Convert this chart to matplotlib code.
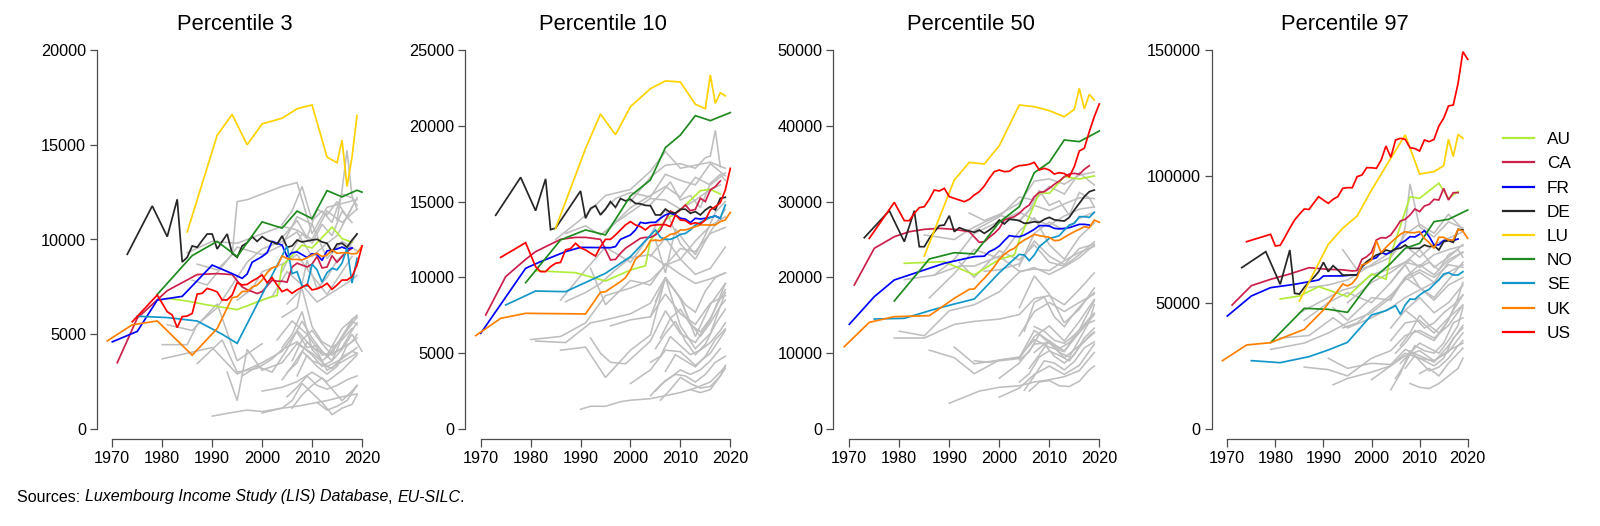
import matplotlib
matplotlib.use("Agg")
import matplotlib.pyplot as plt
from matplotlib.lines import Line2D

plt.rcParams['font.family'] = ['Liberation Sans', 'DejaVu Sans']

# ---- data ----
COUNTRIES = ["AU", "CA", "FR", "DE", "LU", "NO", "SE", "UK", "US"]
COLORS = {"AU": "#B2EC3A", "CA": "#CC1F4A", "FR": "#0000FF", "DE": "#262626",
          "LU": "#FFD200", "NO": "#1E8B1E", "SE": "#1397C9", "UK": "#FF8000",
          "US": "#FF0000"}
GRAY = "#BEBEBE"

YR_84_19 = list(range(1984, 2020))
YR_91_19 = list(range(1991, 2020))

# Percentile 3
P3 = {
    "AU": ([1981, 1985, 1989, 1995, 2001, 2003, 2004, 2008, 2010, 2014, 2016, 2018],
           [6900, 6750, 6550, 6300, 6900, 7050, 8600, 9700, 9550, 10650, 10050, 9850]),
    "CA": ([1971, 1975, 1981, 1987, 1991, 1994, 1996, 1997, 1998, 1999, 2000, 2001, 2002, 2003, 2004,
            2005, 2006, 2007, 2008, 2009, 2010, 2011, 2012, 2013, 2014, 2015, 2016, 2017, 2018],
           [3500, 5850, 7300, 8150, 8200, 8150, 7500, 7350, 7250, 7150, 7250, 7550, 7850, 7800, 7800,
            7750, 8550, 8750, 8650, 8550, 8700, 9100, 8500, 8550, 9150, 8800, 9100, 9350, 9550]),
    "FR": ([1970, 1975, 1979, 1984, 1990, 1994, 1996, 1997, 1998, 2000, 2001, 2002, 2004, 2005, 2006,
            2007, 2008, 2009, 2010, 2011, 2012, 2013, 2014, 2015, 2016, 2017, 2018],
           [4600, 5150, 6800, 7000, 8650, 8200, 7950, 8180, 8800, 9100, 9300, 9900, 9700, 9100, 9300,
            9350, 9200, 9050, 9250, 9200, 8900, 9400, 9450, 9500, 9600, 9500, 9550]),
    "DE": ([1973, 1978, 1981, 1983] + YR_84_19,
           [9220, 11770, 10150, 12120,
            8810, 9060, 9660, 9590, 9950, 10290, 10290, 9500, 9900, 10290, 9270, 9060, 9660, 9830,
            10150, 9900, 10150, 9970, 9870, 9760, 10190, 9590, 9660, 9970, 9870, 9920, 9970, 10010,
            9870, 9800, 9340, 9760, 9800, 9590, 9970, 10290]),
    "LU": ([1985, 1991, 1994, 1997, 2000, 2004, 2007, 2010, 2013, 2015, 2016, 2017, 2018, 2019],
           [10400, 15500, 16600, 15000, 16100, 16400, 16900, 17100, 14350, 14050, 15250, 12800, 14350, 16550]),
    "NO": ([1979, 1986, 1991, 1995, 2000, 2004, 2007, 2010, 2013, 2016, 2019, 2020],
           [7100, 9150, 9900, 9100, 10930, 10600, 11500, 11100, 12580, 12250, 12600, 12500]),
    "SE": ([1975, 1981, 1987, 1992, 1995, 2000, 2005, 2006, 2007, 2008, 2009, 2010, 2011, 2012, 2013,
            2014, 2015, 2016, 2017, 2018, 2019],
           [5950, 5880, 5700, 5000, 4520, 7100, 9650, 8200, 8300, 7550, 7550, 8700, 8400, 7750, 8250,
            8480, 8400, 8750, 9550, 7700, 9000]),
    "UK": ([1969, 1974, 1979, 1986, 1991, 1994, 1995, 1996, 1997, 1998, 1999, 2000, 2001, 2002, 2003,
            2004, 2005, 2006, 2007, 2008, 2009, 2010, 2011, 2012, 2013, 2014, 2015, 2016, 2017, 2018,
            2019, 2020],
           [4650, 5500, 5700, 3900, 5300, 6930, 6980, 7250, 7270, 7480, 7600, 7860, 8250, 8510, 8570,
            9130, 9000, 8950, 8950, 8920, 9040, 9180, 9270, 9100, 9180, 9450, 9270, 9300, 9300, 9240,
            9270, 9650]),
    "US": ([1974, 1979] + list(range(1981, 2021)),
           [5660, 7070,
            6190, 6015, 5350, 5930, 5960, 6100, 7120, 7160, 7420, 7340, 7230, 6810, 6810, 7070, 7720,
            7600, 7630, 7810, 7950, 8130, 7720, 7990, 7600, 7250, 7370, 7160, 7340, 7480, 7630, 7340,
            7400, 7510, 7690, 7370, 7600, 7860, 7860, 8040, 8650, 9660]),
}

P3_GRAY = [
    ([1987, 1991, 1994, 1995, 1997, 2000, 2004, 2007, 2010, 2013, 2016, 2019],
     [8700, 8400, 9200, 12000, 12100, 12400, 12800, 13000, 10300, 11700, 11900, 12100]),
    ([2004, 2006, 2008, 2010, 2012, 2014, 2016, 2018, 2019], [10800, 11500, 12800, 11000, 11500, 10900, 12400, 12200, 11800]),
    ([2003, 2005, 2007, 2009, 2011, 2013, 2015, 2017, 2019], [9800, 10400, 11000, 10100, 11600, 11300, 12000, 11200, 12200]),
    ([1985, 1990, 1995, 2000, 2004, 2007, 2010, 2013, 2016, 2019], [9300, 9900, 9800, 10300, 10700, 10500, 10000, 11500, 10900, 11600]),
    ([2004, 2006, 2008, 2010, 2012, 2014, 2016, 2018], [8300, 9400, 10300, 9800, 10800, 10200, 11500, 10900]),
    ([1980, 1985, 1987, 1991, 1994, 1997, 2000, 2004, 2007, 2010, 2013, 2015, 2018],
     [4450, 4450, 5500, 6400, 7600, 8800, 9500, 9900, 10400, 9100, 9800, 10200, 11700]),
    ([1986, 1989, 1993, 1995, 2000, 2004, 2007, 2010, 2013, 2016, 2019], [7850, 7600, 8900, 9600, 9200, 9700, 11200, 10800, 9000, 9900, 9400]),
    ([1995, 1998, 2000, 2004, 2007, 2010, 2013, 2016, 2018], [6800, 7400, 8300, 8700, 9200, 8100, 7100, 8300, 9100]),
    ([2004, 2007, 2009, 2011, 2013, 2015, 2017, 2019], [5900, 6400, 8900, 7400, 8000, 8900, 9400, 10300]),
    ([2015, 2016, 2017, 2018, 2019], [11000, 12600, 14700, 12300, 11600]),
    ([1980, 1985, 1990, 1995, 2000, 2004, 2007, 2010, 2013, 2016, 2019], [3700, 4000, 4300, 2900, 3500, 4100, 5200, 4300, 3900, 5300, 6000]),
    ([1987, 1992, 1995, 1999, 2002, 2004, 2007, 2010, 2012, 2014, 2016, 2018, 2019],
     [3450, 4700, 3000, 3200, 3700, 4200, 4600, 3900, 3300, 3600, 4800, 5800, 5900]),
    ([1993, 1995, 1997, 2000, 2004, 2007, 2010, 2013, 2016, 2019], [3000, 1500, 4200, 3100, 3500, 4500, 4000, 3300, 3700, 4300]),
    ([1996, 1999, 2002, 2005, 2008, 2010, 2012, 2014, 2016, 2018, 2020], [2800, 3300, 3000, 4200, 5700, 4800, 4100, 3600, 4200, 5000, 4100]),
    ([2004, 2006, 2008, 2010, 2012, 2014, 2016, 2018, 2019], [4300, 5000, 6200, 4200, 3600, 4000, 4900, 5700, 5500]),
    ([2005, 2007, 2009, 2011, 2013, 2015, 2017, 2019], [3000, 3500, 4600, 4100, 3100, 3400, 3700, 4000]),
    ([2004, 2006, 2008, 2010, 2012, 2014, 2016, 2018, 2019], [2600, 3300, 4100, 3600, 3400, 3200, 3800, 4100, 4000]),
    ([2000, 2004, 2007, 2010, 2013, 2016, 2019], [2000, 2200, 2500, 3000, 2500, 3100, 3900]),
    ([2005, 2007, 2009, 2011, 2013, 2015, 2017, 2019], [1700, 2200, 2800, 2300, 2100, 2300, 2600, 2800]),
    ([1990, 1994, 1997, 2000, 2004, 2007, 2010, 2013, 2016, 2019], [680, 870, 1000, 920, 1100, 1200, 1350, 1500, 1700, 1850]),
    ([2000, 2004, 2006, 2008, 2010, 2012, 2014, 2016, 2018, 2019], [850, 1100, 1500, 2400, 1900, 1400, 760, 1100, 1300, 1800]),
    ([2006, 2008, 2010, 2012, 2014, 2016, 2018, 2019], [1100, 1800, 2300, 2700, 2100, 1500, 2000, 2300]),
    ([2011, 2013, 2015, 2017, 2019], [1400, 1000, 1200, 1500, 2300]),
    ([1981, 1986, 1991, 1995, 2000], [5500, 5200, 6600, 3600, 4500]),
    ([2007, 2009, 2011, 2013, 2015, 2017, 2019], [5100, 4300, 4400, 3800, 4500, 5200, 5900]),
    ([1999, 2002, 2005, 2008, 2011, 2014, 2017, 2019], [6700, 7000, 8300, 7600, 6700, 7200, 7700, 8100]),
    ([2006, 2008, 2010, 2012, 2014, 2016, 2018, 2019], [3600, 4700, 5200, 4500, 3900, 4300, 5200, 5600]),
    ([2007, 2009, 2011, 2013, 2015, 2017, 2019], [2800, 3900, 3300, 2900, 3300, 4400, 4800]),
    ([2005, 2008, 2010, 2012, 2014, 2016, 2018], [6600, 7400, 5400, 4600, 4300, 4700, 5300]),
    ([2003, 2006, 2009, 2012, 2015, 2018, 2019], [4700, 5700, 5000, 3900, 4100, 4600, 5000]),
]

# Percentile 10
P10 = {
    "AU": ([1981, 1989, 1995, 2000, 2003, 2004, 2007, 2010, 2014, 2016, 2018],
           [10440, 10310, 9760, 10490, 10770, 12420, 13790, 14450, 15720, 15810, 15500]),
    "CA": ([1971, 1975, 1979, 1981, 1986, 1989, 1991, 1994, 1996, 1997, 1998, 1999, 2000, 2001, 2002,
            2003, 2004, 2005, 2006, 2007, 2008, 2009, 2010, 2011, 2012, 2013, 2014, 2015, 2016, 2017, 2018],
           [7520, 10050, 11190, 11700, 12510, 12640, 12640, 12510, 11150, 11190, 11590, 11920, 12140,
            12360, 12580, 12640, 12640, 12800, 13130, 13790, 14380, 14200, 14450, 14780, 14400, 14490,
            15220, 15000, 15770, 15990, 16360]),
    "FR": ([1970, 1979, 1982, 1987, 1990, 1996, 1997, 1998, 2000, 2001, 2002, 2003, 2004, 2005, 2006,
            2007, 2008, 2009, 2010, 2011, 2012, 2013, 2014, 2015, 2016, 2017, 2018],
           [6310, 10600, 11040, 11700, 11980, 11960, 12030, 12510, 12800, 13130, 13630, 13570, 13630,
            13630, 13900, 14120, 14230, 14120, 13900, 13850, 13610, 13900, 13850, 13900, 13960, 14050, 13900]),
    "DE": ([1973, 1978, 1981, 1983, 1984, 1985, 1990] + YR_91_19,
           [14100, 16600, 14400, 16500, 13150, 13250, 15700,
            13900, 14550, 14730, 14120, 14500, 15000, 14620, 15200, 15050, 15150, 14880, 14850, 14750,
            14730, 14120, 14120, 14510, 14270, 14250, 14490, 14500, 14230, 14340, 14120, 14450, 14670,
            14450, 15220, 15280]),
    "LU": ([1985, 1991, 1994, 1997, 2000, 2004, 2007, 2010, 2013, 2015, 2016, 2017, 2018, 2019],
           [13240, 18500, 20780, 19410, 21260, 22450, 22960, 22890, 21420, 21130, 23350, 21480, 22180, 21970]),
    "NO": ([1979, 1986, 1991, 1995, 2000, 2004, 2007, 2010, 2013, 2016, 2020],
           [9650, 12470, 13130, 12800, 15370, 16430, 18560, 19390, 20670, 20340, 20870]),
    "SE": ([1975, 1981, 1987, 1995, 2000, 2005, 2006, 2007, 2008, 2009, 2010, 2011, 2012, 2013, 2014,
            2015, 2016, 2017, 2018, 2019],
           [8180, 9100, 9060, 10270, 11370, 13130, 12640, 12510, 12510, 12640, 12840, 12900, 13130,
            13460, 13630, 13790, 13960, 14050, 13900, 14780]),
    "UK": ([1969, 1974, 1979, 1991, 1994, 1995, 1996, 1997, 1998, 1999, 2000, 2001, 2002, 2003, 2004,
            2005, 2006, 2007, 2008, 2009, 2010, 2011, 2012, 2013, 2014, 2015, 2016, 2017, 2018, 2019, 2020],
           [6160, 7300, 7630, 7590, 9020, 9060, 9280, 9500, 9720, 9980, 10490, 11190, 11480, 11850, 12420,
            12460, 12420, 12640, 12840, 12900, 13130, 13130, 13240, 13350, 13460, 13460, 13460, 13460,
            13680, 13790, 14290]),
    "US": ([1974, 1979] + list(range(1981, 2021)),
           [11320, 12290,
            10710, 10380, 10380, 10710, 10930, 10990, 11810, 11900, 12250, 11950, 11810, 11600, 11410,
            12030, 12510, 12510, 12800, 13130, 13460, 13680, 13460, 13350, 13130, 13410, 13460, 13480,
            13480, 13350, 14120, 13790, 13750, 13520, 13600, 13520, 13790, 14450, 14670, 14930, 15770, 17190]),
}

P10_GRAY = [
    ([1985, 1990, 1995, 2000, 2004, 2007, 2010, 2013, 2016, 2019], [12500, 13800, 15400, 15800, 17000, 18300, 17200, 17400, 17600, 17200]),
    ([2000, 2004, 2007, 2010, 2013, 2015, 2016, 2017, 2018], [15000, 16600, 17400, 17500, 17200, 17900, 18000, 19700, 17300]),
    ([1994, 1997, 2000, 2004, 2007, 2010, 2013, 2016, 2019], [14200, 15200, 15600, 15300, 16800, 16400, 16100, 17500, 16700]),
    ([1995, 2000, 2004, 2007, 2010, 2013, 2016, 2019], [13000, 14600, 15400, 16000, 15300, 16600, 16100, 16900]),
    ([1987, 1991, 1994, 1997, 2000, 2004, 2007, 2010, 2013, 2016, 2018],
     [12900, 13400, 12800, 13600, 14300, 15200, 15100, 14500, 15100, 15800, 16100]),
    ([2004, 2006, 2008, 2010, 2012, 2014, 2016, 2018, 2019], [14800, 15500, 16300, 15100, 15400, 14600, 16200, 16800, 16400]),
    ([1986, 1991, 1995, 2000, 2004, 2007, 2010, 2013, 2016, 2019], [8500, 10500, 12000, 11000, 12800, 14500, 12200, 11200, 13000, 14500]),
    ([2005, 2007, 2009, 2011, 2013, 2015, 2017, 2019], [12500, 10300, 13200, 12300, 11500, 12800, 14300, 15000]),
    ([1992, 1995, 2000, 2004, 2007, 2010, 2013, 2016, 2019], [10600, 8200, 9800, 9500, 10900, 10200, 9600, 9900, 10300]),
    ([1980, 1986, 1991, 1995, 2000, 2004, 2007, 2010, 2013, 2016, 2019],
     [5900, 6100, 7000, 8800, 9300, 9800, 10800, 11200, 10200, 10600, 12000]),
    ([1981, 1987, 1992, 1995, 2000, 2004, 2007, 2010, 2013, 2016, 2019],
     [5800, 5700, 7000, 7200, 7600, 8300, 10000, 8600, 6100, 8200, 9600]),
    ([1986, 1991, 1995, 2000, 2004, 2007, 2010, 2013, 2016, 2019], [5200, 5400, 3400, 5200, 6200, 10000, 6800, 5300, 6300, 9000]),
    ([1992, 1994, 1996, 1999, 2002, 2004, 2007, 2010, 2013, 2016, 2019],
     [6000, 5000, 4400, 4300, 5200, 5800, 7800, 6300, 5700, 7200, 9600]),
    ([1996, 2000, 2004, 2007, 2010, 2013, 2016, 2019], [6800, 7200, 7400, 8900, 7600, 6900, 8300, 8800]),
    ([2004, 2007, 2010, 2012, 2014, 2016, 2018, 2019], [7400, 10000, 8600, 7000, 6100, 7000, 8100, 8500]),
    ([2005, 2007, 2009, 2011, 2013, 2015, 2017, 2019], [5300, 6300, 7100, 5800, 4900, 5600, 6900, 7900]),
    ([2000, 2004, 2007, 2010, 2013, 2016, 2019], [3000, 3900, 5200, 5100, 4200, 5000, 6500]),
    ([2004, 2006, 2008, 2010, 2012, 2014, 2016, 2018, 2019], [4400, 4800, 6100, 5500, 4900, 5200, 5700, 6500, 7000]),
    ([2005, 2007, 2009, 2011, 2013, 2015, 2017, 2019], [2500, 3200, 3600, 3500, 3100, 3600, 4400, 4800]),
    ([2006, 2008, 2010, 2012, 2014, 2016, 2018, 2019], [1900, 2600, 3400, 3000, 2700, 2800, 3500, 4200]),
    ([1990, 1992, 1995, 1998, 2000, 2004, 2007, 2010, 2013, 2016, 2019],
     [1300, 1500, 1500, 1800, 1900, 2000, 2200, 2400, 2700, 3100, 4100]),
    ([2012, 2014, 2016, 2018, 2019], [2600, 2400, 2600, 3500, 4000]),
    ([2004, 2006, 2008, 2010, 2012, 2014, 2016, 2018], [2200, 2900, 3400, 3900, 3600, 3900, 4500, 5300]),
    ([1987, 1991, 1994, 1997, 2000, 2004, 2007, 2010, 2013, 2016, 2019],
     [8400, 9000, 9600, 10500, 11300, 11500, 10800, 11900, 11700, 12900, 13300]),
    ([2005, 2007, 2009, 2011, 2013, 2015, 2017, 2019], [8400, 9900, 9100, 8200, 7700, 9100, 10000, 10300]),
    ([2006, 2008, 2010, 2012, 2014, 2016, 2018, 2019], [6000, 7300, 7900, 6900, 6400, 7300, 8600, 9200]),
    ([2007, 2009, 2011, 2013, 2015, 2017, 2019], [3800, 4900, 4500, 4100, 4800, 5900, 6600]),
    ([2004, 2007, 2010, 2013, 2016, 2019], [11400, 12600, 11200, 12400, 13400, 14000]),
]

# Percentile 50
P50 = {
    "AU": ([1981, 1989, 1995, 2000, 2003, 2004, 2008, 2010, 2013, 2016, 2019],
           [21860, 22080, 20320, 22380, 22960, 24930, 31180, 31090, 33290, 32980, 33380]),
    "CA": ([1971, 1975, 1979, 1982, 1985, 1988, 1991, 1994, 1996, 1997, 1998, 1999, 2000, 2001, 2002,
            2003, 2004, 2005, 2006, 2007, 2008, 2009, 2010, 2011, 2012, 2013, 2014, 2015, 2016, 2017, 2018],
           [19000, 23840, 25370, 26030, 26340, 26470, 26340, 26030, 24630, 24700, 25290, 25810, 26470,
            27570, 27790, 28010, 28450, 29110, 29550, 30650, 31220, 31310, 31750, 32280, 32720, 33290,
            33640, 33730, 33600, 34260, 34740]),
    "FR": ([1970, 1975, 1979, 1984, 1989, 1995, 1997, 1998, 1999, 2000, 2001, 2002, 2003, 2004, 2005,
            2006, 2007, 2008, 2009, 2010, 2011, 2012, 2013, 2014, 2015, 2016, 2017, 2018],
           [13810, 17460, 19660, 20760, 21860, 22740, 22800, 23400, 23700, 24140, 24850, 25510, 25400,
            25370, 25590, 25950, 26340, 26830, 26830, 26780, 26470, 26400, 26470, 26560, 26780, 27000,
            27000, 26910]),
    "DE": ([1973, 1978, 1981, 1983] + YR_84_19,
           [25240, 28800, 24710, 28800,
            24050, 24050, 25150, 26000, 26830, 26910, 28140, 26030, 26560, 26300, 26120, 25950, 26250,
            25810, 26250, 26780, 27570, 27050, 27660, 27600, 27490, 27130, 27200, 27350, 27250, 27660,
            27920, 27600, 27500, 27440, 27920, 28890, 29770, 30650, 31310, 31530]),
    "LU": ([1985, 1991, 1994, 1997, 2000, 2004, 2007, 2010, 2013, 2015, 2016, 2017, 2018, 2019],
           [22820, 32850, 35180, 34960, 37380, 42740, 42520, 42000, 41200, 42170, 44940, 42220, 44150, 43400]),
    "NO": ([1979, 1986, 1991, 1995, 2000, 2004, 2007, 2010, 2013, 2016, 2020],
           [16890, 22430, 23260, 23090, 27270, 29330, 33820, 35180, 38130, 37910, 39310]),
    "SE": ([1975, 1981, 1987, 1991, 1995, 2000, 2004, 2005, 2006, 2007, 2008, 2010, 2011, 2012, 2013,
            2014, 2015, 2016, 2017, 2018, 2019],
           [14510, 14600, 15790, 16490, 17150, 20620, 23040, 22950, 22210, 22960, 24050, 25150, 25300,
            25510, 26250, 26910, 27130, 28010, 28010, 27920, 28580]),
    "UK": ([1969, 1974, 1979, 1986, 1991, 1994, 1995, 1996, 1997, 1998, 1999, 2000, 2001, 2002, 2003,
            2004, 2005, 2006, 2007, 2008, 2009, 2010, 2011, 2012, 2013, 2014, 2015, 2016, 2017, 2018,
            2019, 2020],
           [10860, 14070, 14820, 14950, 17240, 18430, 18470, 19220, 19880, 20620, 21420, 22380, 23040,
            23530, 23840, 24490, 24930, 25290, 25680, 25510, 25400, 25290, 24850, 24900, 25290, 25680,
            26030, 26340, 26690, 26560, 27570, 27270]),
    "US": ([1974, 1979] + list(range(1981, 2021)),
           [25150, 29900,
            27490, 27490, 28450, 29200, 29330, 30300, 31530, 31400, 31750, 30650, 30430, 30210, 29990,
            30300, 30870, 31310, 32060, 33070, 33950, 34170, 33950, 34000, 34480, 34740, 34800, 34920,
            35180, 34170, 34390, 34170, 33640, 33820, 33700, 33290, 34610, 36680, 37030, 39230, 41200, 42880]),
}

P50_GRAY = [
    ([1994, 1997, 2000, 2004, 2007, 2010, 2013, 2016, 2019], [28500, 27500, 28300, 29800, 32700, 33000, 32300, 33500, 33900]),
    ([1995, 2000, 2004, 2007, 2010, 2013, 2016, 2019], [26200, 28000, 30600, 30200, 32000, 31000, 33800, 32200]),
    ([1985, 1991, 1994, 1997, 2000, 2004, 2007, 2010, 2013, 2016, 2019],
     [25600, 25000, 26300, 27300, 28200, 27500, 29500, 28800, 29700, 30500, 30400]),
    ([2004, 2006, 2008, 2010, 2012, 2014, 2016, 2018, 2019], [27400, 28900, 31500, 29500, 30100, 28200, 31200, 30500, 29300]),
    ([1987, 1991, 1995, 2000, 2004, 2007, 2010, 2013, 2016, 2019], [20300, 22400, 25800, 27400, 28600, 27600, 26900, 28100, 29000, 29300]),
    ([1986, 1991, 1995, 2000, 2004, 2007, 2010, 2013, 2016, 2019], [17300, 20500, 23700, 22500, 26100, 27900, 24300, 22400, 25300, 27200]),
    ([1992, 1995, 2000, 2004, 2007, 2010, 2013, 2016, 2019], [22000, 20000, 23500, 22300, 24300, 22000, 21500, 23000, 24700]),
    ([1997, 2000, 2004, 2007, 2010, 2013, 2016, 2019], [20800, 21000, 21800, 24800, 22800, 21700, 23800, 24400]),
    ([1980, 1985, 1990, 1995, 2000, 2004, 2007, 2010, 2013, 2016, 2019],
     [12900, 12300, 15600, 16400, 18100, 20700, 21300, 20400, 21400, 22600, 24300]),
    ([1979, 1985, 1991, 1995, 2000, 2004, 2007, 2010, 2013, 2016, 2019],
     [12000, 12000, 13800, 14200, 14500, 15100, 17200, 17600, 16400, 18400, 20600]),
    ([1986, 1991, 1995, 2000, 2004, 2007, 2010, 2013, 2016, 2019], [10400, 9400, 7300, 9100, 9400, 13000, 11600, 10300, 12700, 15100]),
    ([1991, 1995, 2000, 2004, 2007, 2010, 2013, 2016, 2019], [10800, 8600, 9100, 9500, 11800, 10800, 10200, 13100, 16900]),
    ([1995, 1998, 2000, 2004, 2007, 2010, 2013, 2016, 2019], [9000, 8800, 9000, 9300, 12200, 13600, 11600, 14200, 17100]),
    ([2004, 2007, 2010, 2013, 2016, 2019], [16000, 20200, 17800, 14000, 15800, 18600]),
    ([2005, 2007, 2009, 2011, 2013, 2015, 2017, 2019], [12900, 16700, 17400, 14800, 13500, 15300, 16800, 18000]),
    ([2000, 2004, 2007, 2010, 2013, 2016, 2019], [6700, 8700, 11200, 11400, 9400, 11000, 12700]),
    ([2004, 2006, 2008, 2010, 2012, 2014, 2016, 2018, 2019], [9100, 10200, 12500, 11300, 10600, 11400, 13000, 14600, 15300]),
    ([2005, 2007, 2009, 2011, 2013, 2015, 2017, 2019], [5100, 7000, 9000, 8700, 7800, 8900, 10700, 11500]),
    ([1990, 1993, 1996, 2000, 2004, 2007, 2010, 2013, 2016, 2019], [3400, 4200, 5000, 5500, 5700, 6200, 6500, 6900, 7700, 10100]),
    ([2000, 2004, 2007, 2010, 2013, 2016, 2019], [4200, 5400, 7200, 8300, 7200, 8400, 11200]),
    ([2006, 2008, 2010, 2012, 2014, 2016, 2018, 2019], [5000, 6200, 6400, 5700, 5600, 6300, 7800, 8300]),
    ([2004, 2006, 2008, 2010, 2012, 2014, 2016, 2018, 2019], [6200, 7300, 9500, 10300, 9700, 9000, 10800, 12300, 12800]),
    ([2007, 2009, 2011, 2013, 2015, 2017, 2019], [13500, 12900, 11700, 11300, 12400, 13700, 14300]),
    ([1981, 1987, 1992, 1995, 2000, 2004, 2007, 2010, 2013, 2016, 2019],
     [19700, 20300, 21500, 21500, 22800, 20800, 21100, 20900, 22200, 23300, 24100]),
    ([2004, 2007, 2010, 2013, 2016, 2019], [12300, 15500, 16700, 15500, 16700, 17800]),
    ([2006, 2008, 2010, 2012, 2014, 2016, 2018, 2019], [8000, 9800, 11700, 10100, 9500, 11800, 14200, 16400]),
    ([2007, 2009, 2011, 2013, 2015, 2017, 2019], [10100, 11200, 9600, 8700, 9800, 12000, 13300]),
    ([2004, 2007, 2010, 2013, 2016, 2019], [21500, 25800, 27300, 26200, 27800, 28600]),
]

# Percentile 97
P97 = {
    "AU": ([1981, 1985, 1989, 1995, 2000, 2003, 2004, 2008, 2010, 2014, 2016, 2018],
           [51450, 52640, 56330, 52380, 61350, 59300, 68900, 91900, 91300, 97300, 91300, 94000]),
    "CA": ([1971, 1975, 1979, 1983, 1987, 1991, 1994, 1996, 1997, 1998, 1999, 2000, 2001, 2002, 2003,
            2004, 2005, 2006, 2007, 2008, 2009, 2010, 2011, 2012, 2013, 2014, 2015, 2016, 2017, 2018],
           [49080, 56730, 59240, 61350, 63850, 63190, 63000, 62530, 62700, 67150, 68210, 69920, 74800,
            75730, 75600, 76780, 79420, 82320, 82980, 84700, 87070, 86020, 88260, 88920, 90900, 90630,
            95250, 90630, 93540, 93540]),
    "FR": ([1970, 1975, 1979, 1984, 1989, 1990, 1994, 1996, 1997, 1998, 1999, 2000, 2001, 2002, 2003,
            2004, 2005, 2006, 2007, 2008, 2009, 2010, 2011, 2012, 2013, 2014, 2015, 2016, 2017, 2018],
           [44720, 52640, 55940, 57260, 58970, 60550, 60600, 60950, 60950, 64250, 65960, 67150, 67800,
            69920, 69130, 70000, 71500, 73480, 74540, 76120, 76000, 77050, 78500, 76120, 72820, 72900,
            74540, 74800, 74600, 75200]),
    "DE": ([1973, 1978, 1981, 1983] + YR_84_19,
           [63850, 70190, 57260, 70840,
            53690, 53430, 56000, 58310, 60000, 62270, 65960, 62270, 64640, 62930, 60950, 60900, 61000,
            60900, 64250, 66230, 67550, 68870, 69500, 70840, 70300, 71240, 71600, 72820, 71500, 71500,
            71500, 72820, 72160, 72600, 70840, 74140, 74540, 73880, 79020, 78760]),
    "LU": ([1985, 1991, 1994, 1997, 2000, 2004, 2007, 2010, 2013, 2015, 2016, 2017, 2018, 2019],
           [50660, 73090, 79420, 84300, 94590, 107120, 116360, 100920, 101850, 104220, 114640, 107780,
            116620, 115040]),
    "NO": ([1979, 1986, 1991, 1995, 2000, 2004, 2007, 2010, 2013, 2016, 2020],
           [34170, 47760, 47360, 46170, 58970, 65570, 71500, 73480, 82060, 82980, 86680]),
    "SE": ([1975, 1981, 1987, 1991, 1995, 2000, 2003, 2005, 2006, 2007, 2008, 2009, 2010, 2011, 2012,
            2013, 2014, 2015, 2016, 2017, 2018, 2019],
           [27050, 26250, 28630, 31270, 34300, 45120, 46830, 48810, 45380, 49080, 51450, 51300, 53030,
            54350, 55280, 57260, 58970, 61350, 61870, 60950, 60950, 62270]),
    "UK": ([1969, 1974, 1979, 1986, 1990, 1994, 1995, 1996, 1997, 1998, 1999, 2000, 2001, 2002, 2003,
            2004, 2005, 2006, 2007, 2008, 2009, 2010, 2011, 2012, 2013, 2014, 2015, 2016, 2017, 2018,
            2019, 2020],
           [27050, 33250, 34170, 39450, 47100, 57390, 56600, 57650, 60030, 64910, 65570, 66890, 74540,
            69790, 71900, 73750, 75460, 77050, 78100, 77700, 77700, 78100, 75460, 73750, 71500, 75860,
            75860, 74800, 74800, 79020, 78360, 75460]),
    "US": ([1974, 1979] + list(range(1980, 2021)),
           [74140, 77050,
            72430, 72700, 76000, 79500, 82720, 85000, 87070, 86900, 89500, 91950, 90600, 89310, 90900,
            92000, 95250, 95520, 95500, 99870, 100530, 103430, 103400, 103170, 106460, 112010, 107520,
            114380, 115040, 114640, 111350, 111000, 110030, 114380, 113720, 114640, 119920, 122960,
            127840, 128230, 136810, 149340, 146310]),
}

P97_GRAY = [
    ([1994, 1997, 2000, 2004, 2007, 2010, 2013, 2016, 2019], [71000, 63000, 64500, 68000, 77000, 81000, 77500, 85000, 79000]),
    ([2004, 2006, 2007, 2008, 2010, 2013, 2016, 2019], [68000, 73000, 80000, 97000, 80000, 76000, 82000, 79500]),
    ([1987, 1991, 1995, 2000, 2004, 2007, 2010, 2013, 2016, 2019], [56000, 57000, 59000, 65000, 70000, 72500, 68000, 73000, 75500, 78000]),
    ([1985, 1991, 1994, 1997, 2000, 2004, 2007, 2010, 2013, 2016, 2019],
     [46000, 52000, 55000, 56500, 61000, 63500, 66000, 64500, 69000, 71000, 72500]),
    ([1995, 2000, 2004, 2007, 2010, 2013, 2016, 2019], [50000, 58000, 62000, 66000, 71000, 64000, 68000, 73000]),
    ([2004, 2006, 2008, 2010, 2012, 2014, 2016, 2018, 2019], [58000, 63000, 67000, 64000, 66000, 63000, 69000, 71000, 68000]),
    ([1986, 1991, 1995, 2000, 2004, 2007, 2010, 2013, 2016, 2019], [43000, 50000, 54000, 50000, 58000, 65000, 56000, 52000, 59000, 66000]),
    ([1979, 1986, 1991, 1995, 2000, 2004, 2007, 2010, 2013, 2016, 2019],
     [31500, 34000, 38000, 42000, 46000, 52000, 60000, 63000, 60000, 65000, 64000]),
    ([1981, 1987, 1992, 1995, 2000, 2004, 2007, 2010, 2013, 2016, 2019],
     [36000, 37000, 44000, 40000, 44000, 48000, 52000, 55000, 58000, 62000, 65000]),
    ([1992, 1995, 2000, 2004, 2007, 2010, 2013, 2016, 2019], [48000, 43000, 52000, 51000, 60000, 56000, 51000, 57000, 60000]),
    ([1986, 1991, 1995, 2000, 2004, 2007, 2010, 2013, 2016, 2019], [24500, 23500, 21000, 28000, 31000, 37000, 39000, 36000, 41000, 49000]),
    ([1992, 1995, 2000, 2004, 2007, 2010, 2013, 2016, 2019], [17500, 20000, 22500, 25000, 30000, 28000, 27000, 30500, 38000]),
    ([1991, 1995, 2000, 2004, 2007, 2010, 2013, 2016, 2019], [28000, 24000, 26000, 25500, 31500, 29000, 26500, 33000, 41000]),
    ([2000, 2004, 2007, 2010, 2013, 2016, 2019], [19500, 25000, 29000, 31000, 27000, 31000, 34000]),
    ([2004, 2006, 2008, 2010, 2012, 2014, 2016, 2018, 2019], [15500, 22000, 31000, 27000, 23000, 24500, 28000, 33000, 35000]),
    ([2005, 2007, 2009, 2011, 2013, 2015, 2017, 2019], [20000, 26000, 33000, 31000, 30000, 34000, 42000, 44000]),
    ([2005, 2007, 2009, 2011, 2013, 2015, 2017, 2019], [30000, 34000, 39000, 37000, 35000, 40000, 47000, 53000]),
    ([2004, 2007, 2010, 2013, 2016, 2019], [40000, 47000, 52000, 46000, 50000, 57000]),
    ([2006, 2008, 2010, 2012, 2014, 2016, 2018, 2019], [26000, 30000, 34000, 32000, 30000, 35000, 41000, 48000]),
    ([2008, 2010, 2012, 2014, 2016, 2018, 2019], [18000, 16500, 16000, 18000, 21000, 24000, 28000]),
    ([2010, 2012, 2014, 2016, 2018, 2019], [22000, 24000, 21000, 26000, 30000, 32000]),
    ([2004, 2007, 2010, 2013, 2016, 2019], [35000, 42000, 43000, 38000, 44000, 49000]),
    ([2007, 2009, 2011, 2013, 2015, 2017, 2019], [47000, 44000, 40000, 42000, 46000, 49000, 53000]),
    ([1994, 1997, 2000, 2004, 2007, 2010, 2013, 2016, 2019], [40000, 42000, 47000, 53000, 59000, 62000, 58000, 66000, 70000]),
    ([2006, 2008, 2010, 2012, 2014, 2016, 2018, 2019], [33000, 38000, 45000, 41000, 38000, 43000, 52000, 58000]),
    ([2007, 2009, 2011, 2013, 2015, 2017, 2019], [24000, 29000, 27000, 25000, 28000, 36000, 40000]),
    ([2004, 2007, 2010, 2013, 2016, 2019], [52000, 60000, 65000, 61000, 67000, 70000]),
]

TITLES = ["Percentile 3", "Percentile 10", "Percentile 50", "Percentile 97"]
Y_MAX = [20000, 25000, 50000, 150000]
Y_STEP = [5000, 5000, 10000, 50000]

# ---- layout (pixels in the 1600x526 figure) ----
W, H = 1600, 526
AXIS_Y = 439.3      # x-axis line
ZERO_Y = 429.0      # value 0
TOP_Y = 50.0        # top y tick
TOP_PX = 36.0
# (y-axis x, x of 1970, x of 2020)
LAYOUT = [(97.0, 112.3, 362.0), (465.3, 480.7, 730.3),
          (833.3, 849.3, 1099.3), (1211.7, 1227.3, 1467.7)]
AXC = "#4D4D4D"

fig = plt.figure(figsize=(W / 100, H / 100), dpi=100)

for title, data, gray, ymax, ystep, (yx, x70, x20) in zip(
        TITLES, [P3, P10, P50, P97], [P3_GRAY, P10_GRAY, P50_GRAY, P97_GRAY],
        Y_MAX, Y_STEP, LAYOUT):
    ppy = (x20 - x70) / 50.0
    x_right = x70 + (2022.04 - 1970) * ppy
    ax = fig.add_axes([yx / W, 1 - AXIS_Y / H, (x_right - yx) / W, (AXIS_Y - TOP_PX) / H])
    sy = (ZERO_Y - TOP_Y) / ymax
    ax.set_xlim(1970 - (x70 - yx) / ppy, 2022.04)
    ax.set_ylim(-(AXIS_Y - ZERO_Y) / sy, (ZERO_Y - TOP_PX) / sy)

    for yrs, vals in gray:
        ax.plot(yrs, vals, color=GRAY, lw=1.15, solid_joinstyle='miter')
    for c in COUNTRIES:
        yrs, vals = data[c]
        ax.plot(yrs, vals, color=COLORS[c], lw=1.25, solid_joinstyle='miter')

    for s in ["top", "right"]:
        ax.spines[s].set_visible(False)
    ax.spines["left"].set_bounds(0, ymax)
    ax.spines["bottom"].set_bounds(1970, 2020)
    for s in ["left", "bottom"]:
        ax.spines[s].set_color(AXC)
        ax.spines[s].set_linewidth(0.9)
    yt = list(range(0, ymax + 1, ystep))
    ax.set_yticks(yt)
    ax.set_yticklabels([str(v) for v in yt])
    ax.set_xticks(range(1970, 2021, 10))
    ax.tick_params(axis="both", length=5.4, width=0.9, color=AXC, labelsize=11.7, labelcolor="black")
    ax.tick_params(axis="y", pad=2.5)
    ax.tick_params(axis="x", pad=3.0)
    ax.patch.set_alpha(0)

    fig.text((yx + x_right) / 2 / W, 1 - 25 / H, title, ha="center", va="center", fontsize=15.8)

# legend
handles = [Line2D([], [], color=COLORS[c], lw=1.6) for c in COUNTRIES]
fig.legend(handles, COUNTRIES, loc="center left", bbox_to_anchor=(1503 / W, 1 - 236.5 / H),
           frameon=False, fontsize=12.4, handlelength=1.8, handletextpad=0.75,
           labelspacing=0.53, borderpad=0, borderaxespad=0)

# source line: plain / italic pieces
renderer = fig.canvas.get_renderer()
x = 17 / W
for txt, style in [("Sources: ", "normal"), ("Luxembourg Income Study (LIS) Database", "italic"),
                   (", ", "normal"), ("EU-SILC", "italic"), (".", "normal")]:
    t = fig.text(x, 1 - 497 / H, txt, ha="left", va="center", fontsize=11.5, style=style)
    bb = t.get_window_extent(renderer)
    x = bb.x1 / W

fig.savefig("out.png", dpi=100)
